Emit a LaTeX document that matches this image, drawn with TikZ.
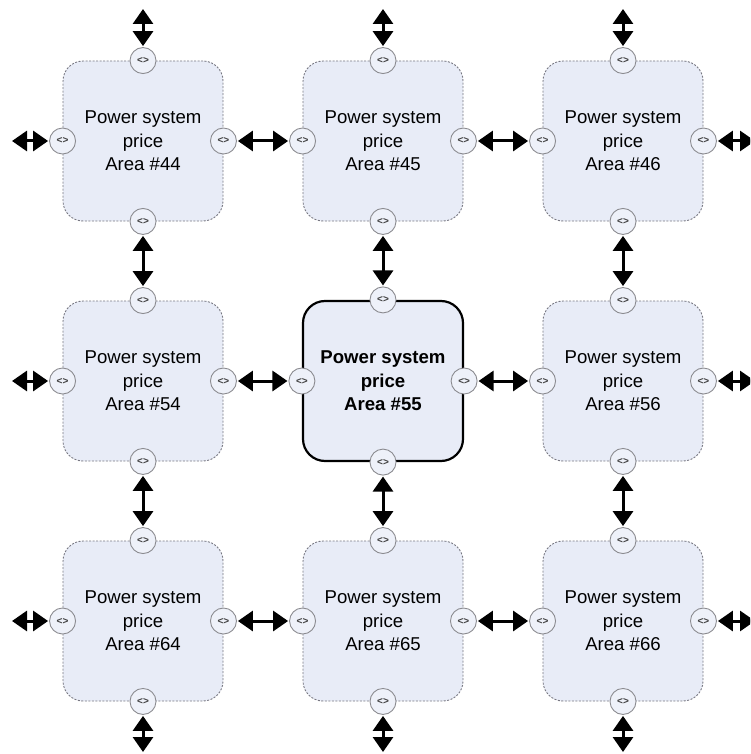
\documentclass[tikz,border=0pt]{standalone}
\usepackage{fontspec}
\setmainfont{Liberation Sans}
\usetikzlibrary{arrows.meta}
\definecolor{boxfill}{RGB}{232,236,247}
\definecolor{portfill}{RGB}{238,241,249}
\definecolor{dashgrey}{RGB}{120,120,130}
\definecolor{circgrey}{RGB}{140,140,145}
\tikzset{
  areabox/.style={draw=dashgrey, line width=0.9pt, dash pattern=on 2pt off 1.5pt,
    fill=boxfill, rounded corners=20pt, minimum width=160pt, minimum height=160pt,
    inner sep=0pt, align=center, font=\fontsize{18.6}{23.5}\selectfont},
  mainbox/.style={areabox, draw=black, solid, line width=2.2pt, rounded corners=22pt, font=\fontsize{18.6}{23.5}\selectfont\bfseries},
  port/.style={circle, draw=circgrey, line width=0.9pt, fill=portfill, minimum size=26pt,
    inner sep=0pt, font=\fontsize{10}{10}\selectfont\bfseries, text=black!75},
  link/.style={line width=3pt, {Triangle[width=20pt,length=15pt]}-{Triangle[width=20pt,length=15pt]}, shorten <=1pt, shorten >=1pt},
}
\begin{document}
\begin{tikzpicture}[x=1pt,y=-1pt]
\useasboundingbox (0,0) rectangle (750,754);
\clip (0,0) rectangle (750,754);
% boxes
\foreach \r/\y in {4/141,5/381,6/621}{
  \foreach \c/\x in {4/143,5/383,6/623}{
    \ifnum\r\c=55
      \node[mainbox] (b\r\c) at (\x,\y) {Power system\\price\\Area \#\r\c};
    \else
      \node[areabox] (b\r\c) at (\x,\y) {Power system\\price\\Area \#\r\c};
    \fi
    \node[port] (t\r\c) at (b\r\c.north) {<>};
    \node[port] (d\r\c) at (b\r\c.south) {<>};
    \node[port] (l\r\c) at (b\r\c.west) {<>};
    \node[port] (p\r\c) at (b\r\c.east) {<>};
  }
}
% horizontal links
\foreach \r in {4,5,6}{
  \draw[link] (p\r4) -- (l\r5);
  \draw[link] (p\r5) -- (l\r6);
}
% vertical links
\foreach \c in {4,5,6}{
  \draw[link] (d4\c) -- (t5\c);
  \draw[link] (d5\c) -- (t6\c);
}
% border stubs
\foreach \c/\x in {4/143,5/383,6/623}{
  \coordinate (top\c) at (\x,8);
  \coordinate (bot\c) at (\x,753);
  \draw[link] (top\c) -- (t4\c);
  \draw[link] (d6\c) -- (bot\c);
}
\foreach \r/\y in {4/141,5/381,6/621}{
  \coordinate (lft\r) at (11,\y);
  \coordinate (rgt\r) at (756,\y);
  \draw[link] (lft\r) -- (l\r4);
  \draw[link] (p\r6) -- (rgt\r);
}
\end{tikzpicture}
\end{document}
